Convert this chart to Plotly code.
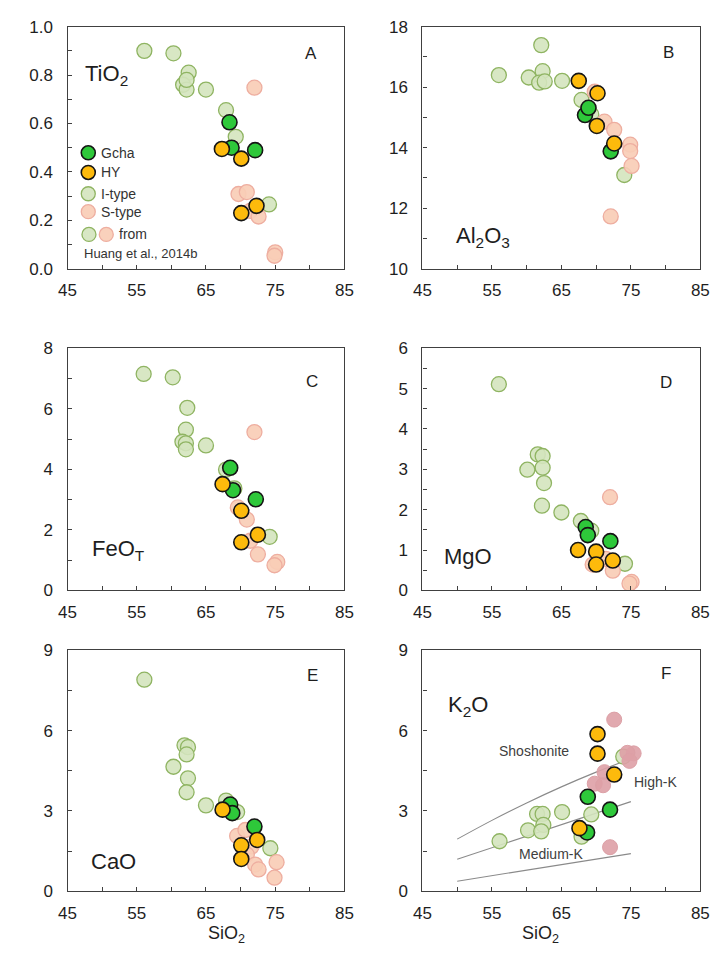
import plotly.graph_objects as go

# ---------------- data ----------------
# Panel A: TiO2
A_gcha_x = [68.4, 68.7, 72.1]
A_gcha_y = [0.605, 0.50, 0.49]
A_hy_x = [67.3, 70.1, 72.3, 70.1]
A_hy_y = [0.495, 0.455, 0.26, 0.23]
A_i_x = [56.1, 60.3, 62.5, 61.7, 62.2, 62.2, 65.0, 67.9, 69.3, 74.1]
A_i_y = [0.90, 0.89, 0.81, 0.76, 0.74, 0.78, 0.74, 0.655, 0.545, 0.266]
A_s_x = [72.0, 69.7, 70.9, 71.4, 72.6, 75.0, 74.9]
A_s_y = [0.748, 0.309, 0.317, 0.239, 0.216, 0.068, 0.054]

# Panel B: Al2O3
B_gcha_x = [68.4, 68.9, 72.1]
B_gcha_y = [15.08, 15.32, 13.88]
B_hy_x = [67.5, 70.2, 70.1, 72.6]
B_hy_y = [16.21, 15.80, 14.72, 14.14]
B_i_x = [56.0, 60.3, 62.1, 62.3, 61.8, 62.6, 65.1, 67.9, 69.3, 74.05]
B_i_y = [16.40, 16.32, 17.39, 16.53, 16.15, 16.19, 16.21, 15.58, 15.10, 13.10]
B_s_x = [69.8, 71.2, 72.6, 74.9, 74.9, 75.1, 72.1]
B_s_y = [15.85, 14.86, 14.59, 14.10, 13.89, 13.40, 11.73]

# Panel C: FeOT
C_gcha_x = [68.5, 68.9, 72.2]
C_gcha_y = [4.05, 3.31, 3.01]
C_hy_x = [67.4, 70.1, 72.5, 70.1]
C_hy_y = [3.51, 2.63, 1.84, 1.59]
C_i_x = [56.0, 60.2, 62.3, 62.1, 61.6, 62.1, 62.1, 65.0, 67.9, 69.1, 74.2]
C_i_y = [7.15, 7.04, 6.03, 5.31, 4.91, 4.86, 4.66, 4.79, 3.99, 3.37, 1.77]
C_s_x = [72.0, 69.6, 70.9, 71.4, 72.5, 75.3, 74.9]
C_s_y = [5.23, 2.74, 2.34, 1.64, 1.19, 0.94, 0.83]

# Panel D: MgO
D_gcha_x = [68.5, 68.8, 72.05]
D_gcha_y = [1.57, 1.37, 1.22]
D_hy_x = [67.4, 70.0, 70.0, 72.4]
D_hy_y = [1.00, 0.96, 0.64, 0.74]
D_i_x = [56.0, 61.6, 62.3, 62.3, 60.1, 62.5, 62.2, 65.0, 67.8, 69.3, 74.15]
D_i_y = [5.11, 3.37, 3.33, 3.04, 2.99, 2.66, 2.10, 1.93, 1.72, 1.48, 0.66]
D_s_x = [72.0, 69.5, 71.4, 72.4, 75.1, 74.8]
D_s_y = [2.31, 0.64, 0.78, 0.49, 0.21, 0.17]

# Panel E: CaO
E_gcha_x = [68.5, 68.8, 72.0]
E_gcha_y = [3.24, 2.92, 2.42]
E_hy_x = [67.4, 70.1, 70.1, 72.4]
E_hy_y = [3.05, 1.72, 1.21, 1.92]
E_i_x = [56.1, 60.3, 61.9, 62.4, 62.2, 62.4, 62.2, 65.0, 67.9, 69.5, 74.3]
E_i_y = [7.90, 4.65, 5.45, 5.38, 5.11, 4.22, 3.70, 3.21, 3.39, 2.96, 1.61]
E_s_x = [69.5, 70.7, 71.6, 70.9, 72.1, 72.6, 75.2, 74.9]
E_s_y = [2.07, 2.29, 1.68, 1.37, 1.00, 0.82, 1.09, 0.51]

# Panel F: K2O
F_gcha_x = [68.8, 68.7, 72.0]
F_gcha_y = [3.53, 2.20, 3.05]
F_hy_x = [67.6, 70.2, 70.2, 72.6]
F_hy_y = [2.36, 5.87, 5.14, 4.36]
F_i_x = [56.1, 60.2, 61.5, 62.3, 62.4, 62.1, 65.1, 67.9, 69.3, 73.9]
F_i_y = [1.87, 2.28, 2.89, 2.89, 2.48, 2.24, 2.96, 2.04, 2.87, 5.03]
F_s_x = [72.6, 75.4, 74.5, 74.8, 71.2, 69.8, 71.0, 72.0]
F_s_y = [6.41, 5.15, 5.17, 4.87, 4.45, 4.02, 3.96, 1.65]

# K2O series boundaries
shoshonite_x = [50, 55, 60, 65, 70, 75]
shoshonite_y = [1.95, 2.65, 3.3, 3.9, 4.45, 4.95]
highk_x = [50, 75]
highk_y = [1.20, 3.35]
mediumk_x = [50, 75]
mediumk_y = [0.38, 1.41]

# Axis settings per panel
panel_letters = ["A", "B", "C", "D", "E", "F"]
panel_oxides = ["TiO<sub>2</sub>", "Al<sub>2</sub>O<sub>3</sub>", "FeO<sub>T</sub>",
                "MgO", "CaO", "K<sub>2</sub>O"]
y_ranges = [[0, 1.0], [10, 18], [0, 8], [0, 6], [0, 9], [0, 9]]
y_dticks = [0.2, 2, 2, 1, 3, 3]
y_minor = [0.1, 1, 1, 0.5, 1.5, 1.5]
x_ticks = [45, 55, 65, 75, 85]

legend_names = ["Gcha", "HY", "I-type", "S-type"]

# ---------------- styles ----------------
FONT = "Liberation Sans, Arial, Helvetica, sans-serif"
TXT = "#1e1e1e"
GCHA = dict(color="#2ec83a", line=dict(color="#151515", width=1.6))
HY = dict(color="#fdba0c", line=dict(color="#151515", width=1.6))
ITYPE = dict(color="rgba(212,228,190,0.9)", line=dict(color="#8fb462", width=1.3))
STYPE = dict(color="rgba(249,205,182,0.92)", line=dict(color="#eeaea0", width=1.3))
STYPE_F = dict(color="rgba(222,160,166,0.9)", line=dict(color="#dca0a6", width=1.0))
MS = 15

W, H = 723, 971


def px_x(p):
    return p / W


def px_y(p):
    return 1 - p / H


fig = go.Figure()

panels = [
    (A_i_x, A_i_y, A_s_x, A_s_y, A_gcha_x, A_gcha_y, A_hy_x, A_hy_y),
    (B_i_x, B_i_y, B_s_x, B_s_y, B_gcha_x, B_gcha_y, B_hy_x, B_hy_y),
    (C_i_x, C_i_y, C_s_x, C_s_y, C_gcha_x, C_gcha_y, C_hy_x, C_hy_y),
    (D_i_x, D_i_y, D_s_x, D_s_y, D_gcha_x, D_gcha_y, D_hy_x, D_hy_y),
    (E_i_x, E_i_y, E_s_x, E_s_y, E_gcha_x, E_gcha_y, E_hy_x, E_hy_y),
    (F_i_x, F_i_y, F_s_x, F_s_y, F_gcha_x, F_gcha_y, F_hy_x, F_hy_y),
]

col_x = [[px_x(60), px_x(344)], [px_x(424), px_x(709)]]
row_y = [[px_y(265), px_y(18)], [px_y(593), px_y(346)], [px_y(900), px_y(654)]]

for k, (ix, iy, sx, sy, gx, gy, hx, hy) in enumerate(panels):
    xa = "x" if k == 0 else f"x{k+1}"
    ya = "y" if k == 0 else f"y{k+1}"
    if k == 5:
        for lx, ly in [(shoshonite_x, shoshonite_y), (highk_x, highk_y), (mediumk_x, mediumk_y)]:
            fig.add_trace(go.Scatter(x=lx, y=ly, mode="lines", xaxis=xa, yaxis=ya,
                                     line=dict(color="#8a8a8a", width=1.1, shape="spline"),
                                     showlegend=False, hoverinfo="skip"))
    fig.add_trace(go.Scatter(x=ix, y=iy, mode="markers", xaxis=xa, yaxis=ya,
                             marker=dict(size=MS, **ITYPE), showlegend=False))
    fig.add_trace(go.Scatter(x=sx, y=sy, mode="markers", xaxis=xa, yaxis=ya,
                             marker=dict(size=MS, **(STYPE_F if k == 5 else STYPE)),
                             showlegend=False))
    fig.add_trace(go.Scatter(x=gx, y=gy, mode="markers", xaxis=xa, yaxis=ya,
                             marker=dict(size=MS, **GCHA), showlegend=False))
    fig.add_trace(go.Scatter(x=hx, y=hy, mode="markers", xaxis=xa, yaxis=ya,
                             marker=dict(size=MS, **HY), showlegend=False))

# ---------------- custom legend inside panel A ----------------
leg_styles = [GCHA, HY, ITYPE, STYPE]
leg_y = [0.479, 0.398, 0.31, 0.236]
for name, st, yy in zip(legend_names, leg_styles, leg_y):
    fig.add_trace(go.Scatter(x=[48.0], y=[yy], mode="markers", xaxis="x", yaxis="y",
                             marker=dict(size=14, **st), showlegend=False, hoverinfo="skip"))
    fig.add_annotation(x=49.6, y=yy, xref="x", yref="y", text=name, showarrow=False,
                       xanchor="left", yanchor="middle",
                       font=dict(family=FONT, size=14, color="#333333"))
fig.add_trace(go.Scatter(x=[48.1], y=[0.142], mode="markers", xaxis="x", yaxis="y",
                         marker=dict(size=14, **ITYPE), showlegend=False, hoverinfo="skip"))
fig.add_trace(go.Scatter(x=[50.6], y=[0.142], mode="markers", xaxis="x", yaxis="y",
                         marker=dict(size=14, **STYPE), showlegend=False, hoverinfo="skip"))
fig.add_annotation(x=52.1, y=0.142, xref="x", yref="y", text="from", showarrow=False,
                   xanchor="left", yanchor="middle",
                   font=dict(family=FONT, size=14, color="#333333"))
fig.add_annotation(x=47.1, y=0.063, xref="x", yref="y", text="Huang et al., 2014b",
                   showarrow=False, xanchor="left", yanchor="middle",
                   font=dict(family=FONT, size=13, color="#333333"))

# ---------------- panel labels ----------------
letter_pos = [(80.1, 0.89), (80.4, 17.13), (80.3, 6.9), (80.1, 5.15), (80.4, 8.05), (80.1, 8.13)]
oxide_pos = [(47.3, 0.80), (49.6, 11.04), (48.2, 1.33), (47.8, 0.85), (48.1, 1.1), (48.4, 6.92)]
for k in range(6):
    xa = "x" if k == 0 else f"x{k+1}"
    ya = "y" if k == 0 else f"y{k+1}"
    fig.add_annotation(x=letter_pos[k][0], y=letter_pos[k][1], xref=xa, yref=ya,
                       text=panel_letters[k], showarrow=False,
                       font=dict(family=FONT, size=17, color=TXT))
    fig.add_annotation(x=oxide_pos[k][0], y=oxide_pos[k][1], xref=xa, yref=ya,
                       text=panel_oxides[k], showarrow=False, xanchor="left",
                       font=dict(family=FONT, size=22, color=TXT))

# K2O series labels
fig.add_annotation(x=61.1, y=5.24, xref="x6", yref="y6", text="Shoshonite", showarrow=False,
                   font=dict(family=FONT, size=14, color="#404040"))
fig.add_annotation(x=78.5, y=4.1, xref="x6", yref="y6", text="High-K", showarrow=False,
                   font=dict(family=FONT, size=14, color="#404040"))
fig.add_annotation(x=63.5, y=1.41, xref="x6", yref="y6", text="Medium-K", showarrow=False,
                   font=dict(family=FONT, size=14, color="#404040"))

# x axis titles (bottom row)
for cx in [(60 + 344) / 2, (424 + 709) / 2]:
    fig.add_annotation(x=px_x(cx), y=px_y(958), xref="paper", yref="paper",
                       text="SiO<sub>2</sub>", showarrow=False,
                       font=dict(family=FONT, size=18, color=TXT))

# ---------------- axes ----------------
layout_axes = {}
for k in range(6):
    r, c = divmod(k, 2)
    sfx = "" if k == 0 else str(k + 1)
    layout_axes[f"xaxis{sfx}"] = dict(
        domain=col_x[c], anchor=f"y{sfx}", range=[45, 85],
        tickmode="array", tickvals=x_ticks, ticktext=[str(v) for v in x_ticks],
        ticks="inside", ticklen=4, tickwidth=1, tickcolor="#404040",
        minor=dict(tickmode="linear", tick0=45, dtick=5, ticks="inside", ticklen=4,
                   tickcolor="#404040", showgrid=False),
        showline=True, linecolor="#404040", linewidth=1.3, mirror=True,
        showgrid=False, zeroline=False, ticklabelstandoff=6,
        tickfont=dict(family=FONT, size=17, color=TXT),
    )
    layout_axes[f"yaxis{sfx}"] = dict(
        domain=row_y[r], anchor=f"x{sfx}", range=y_ranges[k],
        tick0=y_ranges[k][0], dtick=y_dticks[k],
        tickformat=".1f" if k == 0 else "d",
        ticks="inside", ticklen=4, tickwidth=1, tickcolor="#404040",
        minor=dict(tickmode="linear", tick0=y_ranges[k][0], dtick=y_minor[k], ticks="inside",
                   ticklen=4, tickcolor="#404040", showgrid=False),
        showline=True, linecolor="#404040", linewidth=1.3, mirror=True,
        showgrid=False, zeroline=False, ticklabelstandoff=10,
        tickfont=dict(family=FONT, size=17, color=TXT),
    )

fig.update_layout(
    width=W, height=H,
    margin=dict(l=0, r=0, t=0, b=0),
    paper_bgcolor="white", plot_bgcolor="white",
    showlegend=False,
    **layout_axes,
)

# remove the browser's default page margin so the figure sits at the window origin
fig.write_html(
    "out.html",
    config={"displayModeBar": False},
    post_script=(
        "document.documentElement.style.margin='0';"
        "document.body.style.margin='0';"
        "document.documentElement.style.overflow='hidden';"
        "document.body.style.overflow='hidden';"
    ),
)
